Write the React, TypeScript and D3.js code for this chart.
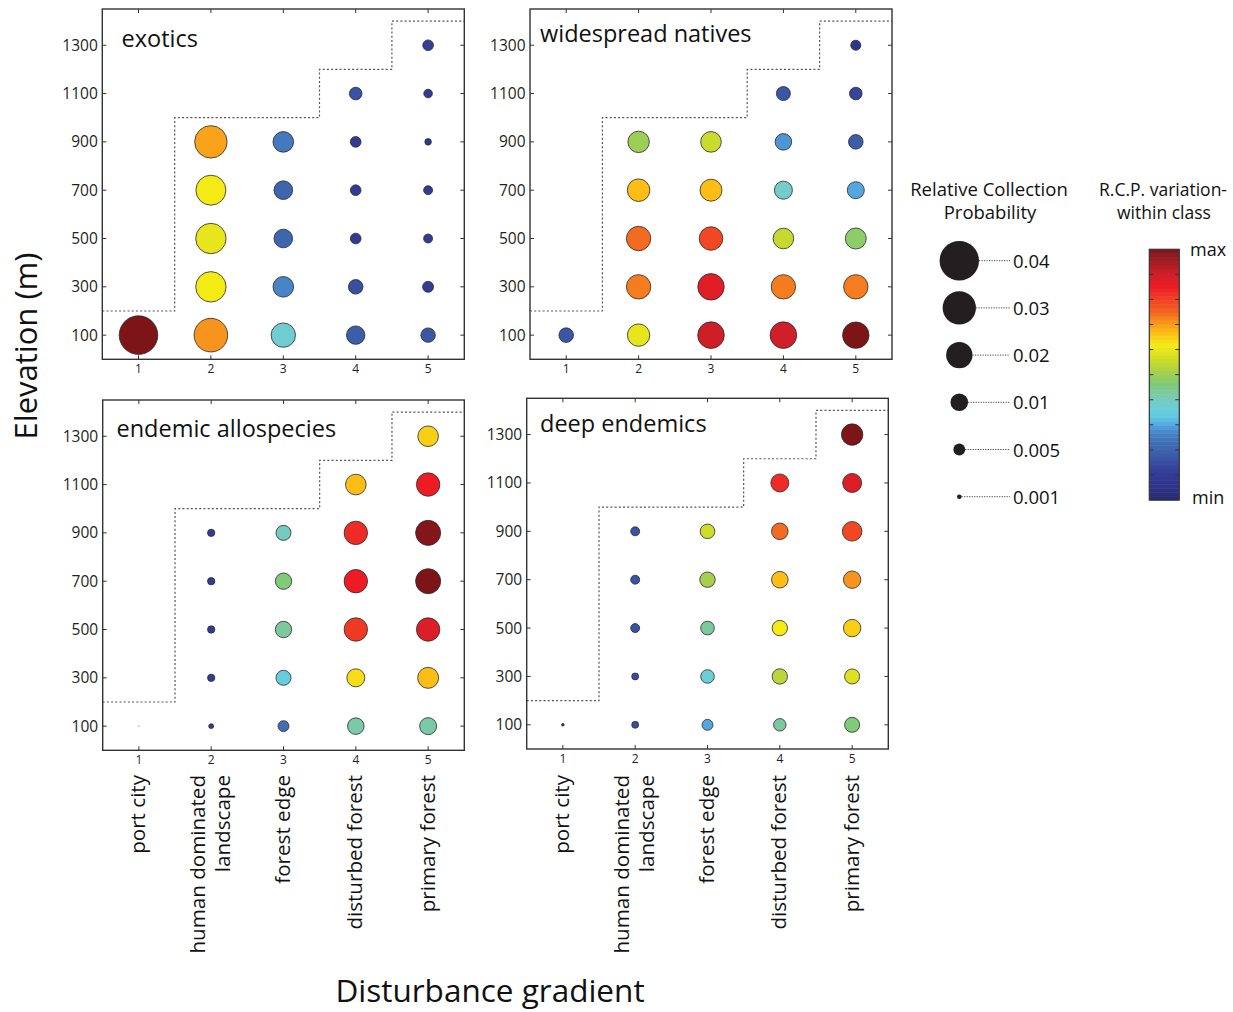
import React from "react";
import * as d3 from "d3";

// ---------- data ----------
const gradientLevels = [1, 2, 3, 4, 5];
const elevationTicks = [100, 300, 500, 700, 900, 1100, 1300];
const categoryLabels = [
  ["port city"],
  ["human dominated", "landscape"],
  ["forest edge"],
  ["disturbed forest"],
  ["primary forest"],
];
const panelNames = ["exotics", "widespread natives", "endemic allospecies", "deep endemics"];
// upper sampling limit of each disturbance class (dotted step line)
const ceilingElevation = [200, 1000, 1000, 1200, 1400];

// relative collection probability, per disturbance class, elevations 100,300,...
const exoticsProb = [
  [0.0386],
  [0.0304, 0.0256, 0.0256, 0.025, 0.0286],
  [0.0175, 0.0131, 0.011, 0.011, 0.0131],
  [0.0108, 0.0072, 0.0042, 0.0042, 0.0042, 0.0056],
  [0.0071, 0.0044, 0.0031, 0.0031, 0.0018, 0.0029, 0.0042],
];
const exoticsLevel = [
  [1.0],
  [0.71, 0.62, 0.6, 0.62, 0.695],
  [0.38, 0.265, 0.205, 0.205, 0.25],
  [0.185, 0.15, 0.09, 0.09, 0.09, 0.16],
  [0.17, 0.11, 0.1, 0.1, 0.08, 0.1, 0.12],
];
const widespreadProb = [
  [0.0072],
  [0.0151, 0.0175, 0.0175, 0.0153, 0.014],
  [0.0203, 0.0201, 0.0165, 0.0146, 0.0131],
  [0.0203, 0.0175, 0.0131, 0.0104, 0.009, 0.0067],
  [0.0201, 0.0175, 0.0135, 0.0094, 0.0072, 0.0056, 0.0038],
];
const widespreadLevel = [
  [0.17],
  [0.6, 0.73, 0.745, 0.67, 0.5],
  [0.9, 0.87, 0.79, 0.67, 0.555],
  [0.895, 0.73, 0.55, 0.39, 0.285, 0.17],
  [1.0, 0.73, 0.48, 0.3, 0.185, 0.13, 0.06],
];
const allospeciesProb = [
  [0.00005],
  [0.0011, 0.0022, 0.0022, 0.0022, 0.0022],
  [0.0044, 0.0076, 0.0088, 0.0088, 0.0076],
  [0.009, 0.0104, 0.0163, 0.0163, 0.0163, 0.0131],
  [0.0094, 0.0135, 0.0163, 0.0183, 0.0183, 0.0163, 0.0131],
];
const allospeciesLevel = [
  [0.1],
  [0.1, 0.1, 0.1, 0.1, 0.1],
  [0.23, 0.35, 0.43, 0.465, 0.4],
  [0.42, 0.635, 0.81, 0.85, 0.83, 0.67],
  [0.42, 0.67, 0.88, 1.0, 0.99, 0.85, 0.65],
];
const deepProb = [
  [0.00037],
  [0.002, 0.002, 0.0031, 0.0031, 0.0031],
  [0.0044, 0.0064, 0.0064, 0.0079, 0.0072],
  [0.0055, 0.0079, 0.0079, 0.009, 0.009, 0.0104],
  [0.0076, 0.0076, 0.0098, 0.0098, 0.012, 0.0114, 0.014],
];
const deepLevel = [
  [0.05],
  [0.15, 0.15, 0.16, 0.16, 0.16],
  [0.3, 0.37, 0.43, 0.51, 0.56],
  [0.43, 0.535, 0.62, 0.67, 0.745, 0.83],
  [0.465, 0.585, 0.65, 0.71, 0.79, 0.88, 1.0],
];

const legendValues = [0.04, 0.03, 0.02, 0.01, 0.005, 0.001];
const legendLabels = ["0.04", "0.03", "0.02", "0.01", "0.005", "0.001"];

// colormap (min -> max)
const colorStopLevels = [0, 0.05, 0.12, 0.18, 0.24, 0.28, 0.31, 0.34, 0.38, 0.42, 0.46, 0.51, 0.56, 0.62, 0.67, 0.71, 0.75, 0.8, 0.85, 0.91, 0.96, 1];
const colorStopColors = ["#262b70", "#2e3389", "#353f98", "#3b5ca8", "#4173b9", "#4a8fd0", "#5ab2e6", "#62cde0", "#6fcdd2", "#7bc9a8", "#7cca7b", "#a5d04e", "#cddc28", "#f4ea14", "#fbbd16", "#f7941d", "#f26522", "#ef4123", "#ed1c24", "#c8202a", "#9a1c22", "#7c1418"];

// ---------- rendering ----------
const FONT = "'Open Sans', 'DejaVu Sans', sans-serif";
const INK = "#231f20";

const color = d3.scaleLinear<string>().domain(colorStopLevels).range(colorStopColors).interpolate(d3.interpolateRgb);
const radius = d3.scalePow().exponent(0.58).domain([0, 0.04]).range([0, 19.7]);

type PanelSpec = {
  name: string;
  prob: number[][];
  level: number[][];
  x0: number; x1: number; y0: number; y1: number;
  tx: number; ty: number;
};

function Panel({ p }: { p: PanelSpec }) {
  const xs = d3.scaleLinear().domain([0.5, 5.5]).range([p.x0, p.x1]);
  const ys = d3.scaleLinear().domain([0, 1450]).range([p.y1, p.y0]);
  const stepPts: [number, number][] = [];
  ceilingElevation.forEach((c, i) => {
    stepPts.push([i + 0.5, c]);
    stepPts.push([i + 1.5, c]);
  });
  const stepPath = d3.line<[number, number]>().x((d) => xs(d[0])).y((d) => ys(d[1]))(stepPts) || "";
  const tl = 4;
  return (
    <g>
      <path d={stepPath} fill="none" stroke="#555" strokeWidth={1.2} strokeDasharray="2,2.2" />
      {p.prob.map((col, i) =>
        col.map((v, j) => (
          <circle
            key={`${i}-${j}`}
            cx={xs(gradientLevels[i])}
            cy={ys(elevationTicks[j])}
            r={radius(v)}
            fill={color(p.level[i][j])}
            stroke="#2a2a2a"
            strokeWidth={v < 0.0002 ? 0.2 : 0.8}
          />
        ))
      )}
      <rect x={p.x0} y={p.y0} width={p.x1 - p.x0} height={p.y1 - p.y0} fill="none" stroke="#333" strokeWidth={1.4} />
      {gradientLevels.map((g) => (
        <g key={"xt" + g}>
          <line x1={xs(g)} x2={xs(g)} y1={p.y1} y2={p.y1 - tl} stroke="#333" strokeWidth={1} />
          <line x1={xs(g)} x2={xs(g)} y1={p.y0} y2={p.y0 + tl} stroke="#333" strokeWidth={1} />
          <text x={xs(g)} y={p.y1 + 14} textAnchor="middle" fontSize={12} fontFamily={FONT} fill={INK}>{g}</text>
        </g>
      ))}
      {elevationTicks.map((e) => (
        <g key={"yt" + e}>
          <line x1={p.x0} x2={p.x0 + tl} y1={ys(e)} y2={ys(e)} stroke="#333" strokeWidth={1} />
          <line x1={p.x1} x2={p.x1 - tl} y1={ys(e)} y2={ys(e)} stroke="#333" strokeWidth={1} />
          <text x={p.x0 - 4.5} y={ys(e) + 5.5} textAnchor="end" fontSize={15.5} fontFamily={FONT} fill={INK}>{e}</text>
        </g>
      ))}
      <text x={p.tx} y={p.ty} fontSize={23.5} fontFamily={FONT} fill="#111">{p.name}</text>
    </g>
  );
}

export default function App() {
  const panels: PanelSpec[] = [
    { name: panelNames[0], prob: exoticsProb, level: exoticsLevel, x0: 102.3, x1: 464.3, y0: 9, y1: 359.3, tx: 121.5, ty: 47 },
    { name: panelNames[1], prob: widespreadProb, level: widespreadLevel, x0: 530, x1: 892, y0: 9, y1: 359.3, tx: 540, ty: 42 },
    { name: panelNames[2], prob: allospeciesProb, level: allospeciesLevel, x0: 102.7, x1: 464.3, y0: 400, y1: 750.3, tx: 116.5, ty: 437 },
    { name: panelNames[3], prob: deepProb, level: deepLevel, x0: 526.7, x1: 888.3, y0: 398.3, y1: 749, tx: 540, ty: 432 },
  ];

  const bottomAxes = [panels[2], panels[3]];

  // legend
  const legCx = 959.3;
  const legY = d3.scalePoint<number>().domain(d3.range(legendValues.length)).range([260.7, 496.7]);

  // colorbar
  const cbX = 1149.3, cbW = 30, cbTop = 249.3, cbBot = 500;
  const nBands = 64;
  const cbScale = d3.scaleLinear().domain([0, 1]).range([cbBot, cbTop]);
  const bands = d3.range(nBands).map((i) => i / nBands);

  return (
    <svg width={1233} height={1012} style={{ position: "absolute", left: 0, top: 0, background: "#fff" }} xmlns="http://www.w3.org/2000/svg">
      <rect x={0} y={0} width={1233} height={1012} fill="#fff" />
      {panels.map((p) => <Panel key={p.name} p={p} />)}

      {/* category labels */}
      {bottomAxes.map((p, k) => {
        const xs = d3.scaleLinear().domain([0.5, 5.5]).range([p.x0, p.x1]);
        return (
          <g key={"cat" + k}>
            {categoryLabels.map((lines, i) => (
              <g key={i} transform={`translate(${xs(gradientLevels[i])},775) rotate(-90)`}>
                {lines.map((ln, li) => (
                  <text
                    key={li}
                    x={0}
                    y={lines.length === 1 ? 6.5 : li === 0 ? -6 : 18.5}
                    textAnchor="end"
                    fontSize={20.6}
                    fontFamily={FONT}
                    fill="#111"
                  >
                    {ln}
                  </text>
                ))}
              </g>
            ))}
          </g>
        );
      })}

      {/* axis titles */}
      <text transform="translate(37,346) rotate(-90)" textAnchor="middle" fontSize={31} fontFamily={FONT} fill="#111">Elevation (m)</text>
      <text x={490} y={1002} textAnchor="middle" fontSize={31.5} fontFamily={FONT} fill="#111">Disturbance gradient</text>

      {/* size legend */}
      <text x={989} y={196} textAnchor="middle" fontSize={18.5} fontFamily={FONT} fill="#111">Relative Collection</text>
      <text x={990} y={219} textAnchor="middle" fontSize={18.5} fontFamily={FONT} fill="#111">Probability</text>
      {legendValues.map((v, i) => {
        const cy = legY(i) as number;
        const r = radius(v);
        return (
          <g key={"lg" + i}>
            <line x1={legCx + r} x2={1010} y1={cy} y2={cy} stroke="#444" strokeWidth={1} strokeDasharray="1.2,1.3" />
            <circle cx={legCx} cy={cy} r={r} fill="#231f20" />
            <text x={1013} y={cy + 7} fontSize={18.5} fontFamily={FONT} fill="#111">{legendLabels[i]}</text>
          </g>
        );
      })}

      {/* colorbar */}
      <text x={1163} y={196} textAnchor="middle" fontSize={17.5} fontFamily={FONT} fill="#111">R.C.P. variation-</text>
      <text x={1164} y={219} textAnchor="middle" fontSize={17.5} fontFamily={FONT} fill="#111">within class</text>
      {bands.map((b, i) => (
        <rect
          key={"cb" + i}
          x={cbX}
          y={cbScale(b + 1 / nBands)}
          width={cbW}
          height={cbScale(b) - cbScale(b + 1 / nBands) + 0.5}
          fill={color(b + 0.5 / nBands)}
        />
      ))}
      <rect x={cbX} y={cbTop} width={cbW} height={cbBot - cbTop} fill="none" stroke="#333" strokeWidth={1.2} />
      {d3.range(1, 10).map((t) => (
        <g key={"cbt" + t}>
          <line x1={cbX} x2={cbX + 4} y1={cbScale(t / 10)} y2={cbScale(t / 10)} stroke="#333" strokeWidth={1} />
          <line x1={cbX + cbW} x2={cbX + cbW - 4} y1={cbScale(t / 10)} y2={cbScale(t / 10)} stroke="#333" strokeWidth={1} />
        </g>
      ))}
      <text x={1190} y={256} fontSize={18} fontFamily={FONT} fill="#111">max</text>
      <text x={1192} y={504} fontSize={18} fontFamily={FONT} fill="#111">min</text>
    </svg>
  );
}
